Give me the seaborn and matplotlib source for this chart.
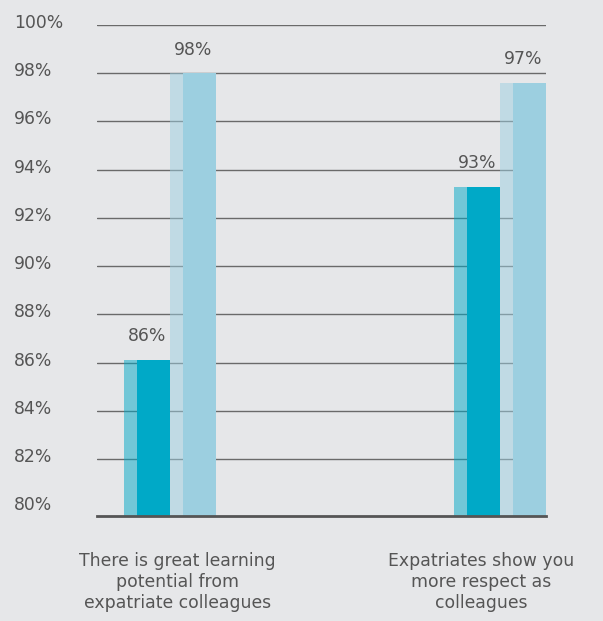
import numpy as np
import pandas as pd
import seaborn as sns
import matplotlib.pyplot as plt
import matplotlib.transforms as mtransforms
from matplotlib.patches import Rectangle

# data
statements = ["There is great learning\npotential from\nexpatriate colleagues",
              "Expatriates show you\nmore respect as\ncolleagues"]
series = ["Series A", "Series B"]
series_a = [86.1, 93.3]
series_b = [98.0, 97.6]
labels_a = ["86%", "93%"]
labels_b = ["98%", "97%"]
yticks = list(range(80, 101, 2))

df = pd.DataFrame({
    "statement": statements * 2,
    "series": [series[0]] * 2 + [series[1]] * 2,
    "value": series_a + series_b,
    "label": labels_a + labels_b,
})

bg = "#e6e7e9"
text_col = "#555555"
colors = ["#00a9c7", "#9ccfe0"]

sns.set_style("white")
plt.rcParams["font.family"] = ["DejaVu Sans"]
fs = 12.4

fig = plt.figure(figsize=(6.03, 6.21), dpi=100, facecolor=bg)
ax = fig.add_axes([0.161, 0.169, 0.745, 0.7907])
ax.set_facecolor(bg)

sns.barplot(data=df, x="statement", y="value", hue="series", palette=colors,
            width=0.279, errorbar=None, legend=False, ax=ax, saturation=1)

ax.set_ylim(79.63, 100)
ax.set_xlim(-0.2212, 1.1394)

# split each bar into a translucent side strip and a solid front
bars = [p for p in ax.patches if isinstance(p, Rectangle)]
for p in bars:
    x, w, h = p.get_x(), p.get_width(), p.get_height()
    sw = w * 13 / 46
    fc = p.get_facecolor()
    p.set_x(x + sw)
    p.set_width(w - sw)
    p.set_edgecolor("none")
    p.set_zorder(2)
    ax.add_patch(Rectangle((x, 0), sw, h, facecolor=fc[:3], alpha=0.5,
                           edgecolor="none", zorder=1.5))

# value labels centred on the whole bar (strip + front)
for p in bars:
    h = p.get_height()
    full_w = p.get_width() * 46 / 33
    cx = p.get_x() + p.get_width() - full_w / 2
    val = df.loc[np.isclose(df["value"], h), "label"].iloc[0]
    ax.annotate(val, (cx, h), xytext=(0, 17), textcoords="offset points",
                ha="center", va="center", fontsize=fs, color=text_col)

# grid and axes
ax.set_yticks(yticks)
ax.set_yticklabels([f"{t}%" for t in yticks])
ax.yaxis.grid(True, color="#6a6a6a", linewidth=1)
ax.set_axisbelow(True)
ax.get_ygridlines()[0].set_visible(False)
for s in ["top", "right", "left"]:
    ax.spines[s].set_visible(False)
ax.spines["bottom"].set_color("#555555")
ax.spines["bottom"].set_linewidth(2)

ax.tick_params(axis="y", length=0, pad=60, labelsize=fs, labelcolor=text_col)
for lab in ax.get_yticklabels():
    lab.set_ha("left")
    lab.set_transform(lab.get_transform() +
                      mtransforms.ScaledTranslation(0, 4 / 100, fig.dpi_scale_trans))

ax.tick_params(axis="x", length=0, pad=26, labelsize=fs, labelcolor=text_col)
ax.set_xlabel("")
ax.set_ylabel("")
shifts = [7, -19]
for lab, dx in zip(ax.get_xticklabels(), shifts):
    lab.set_linespacing(1.22)
    lab.set_transform(lab.get_transform() +
                      mtransforms.ScaledTranslation(dx / 100, 0, fig.dpi_scale_trans))

fig.savefig("out.png", dpi=100, facecolor=bg)
